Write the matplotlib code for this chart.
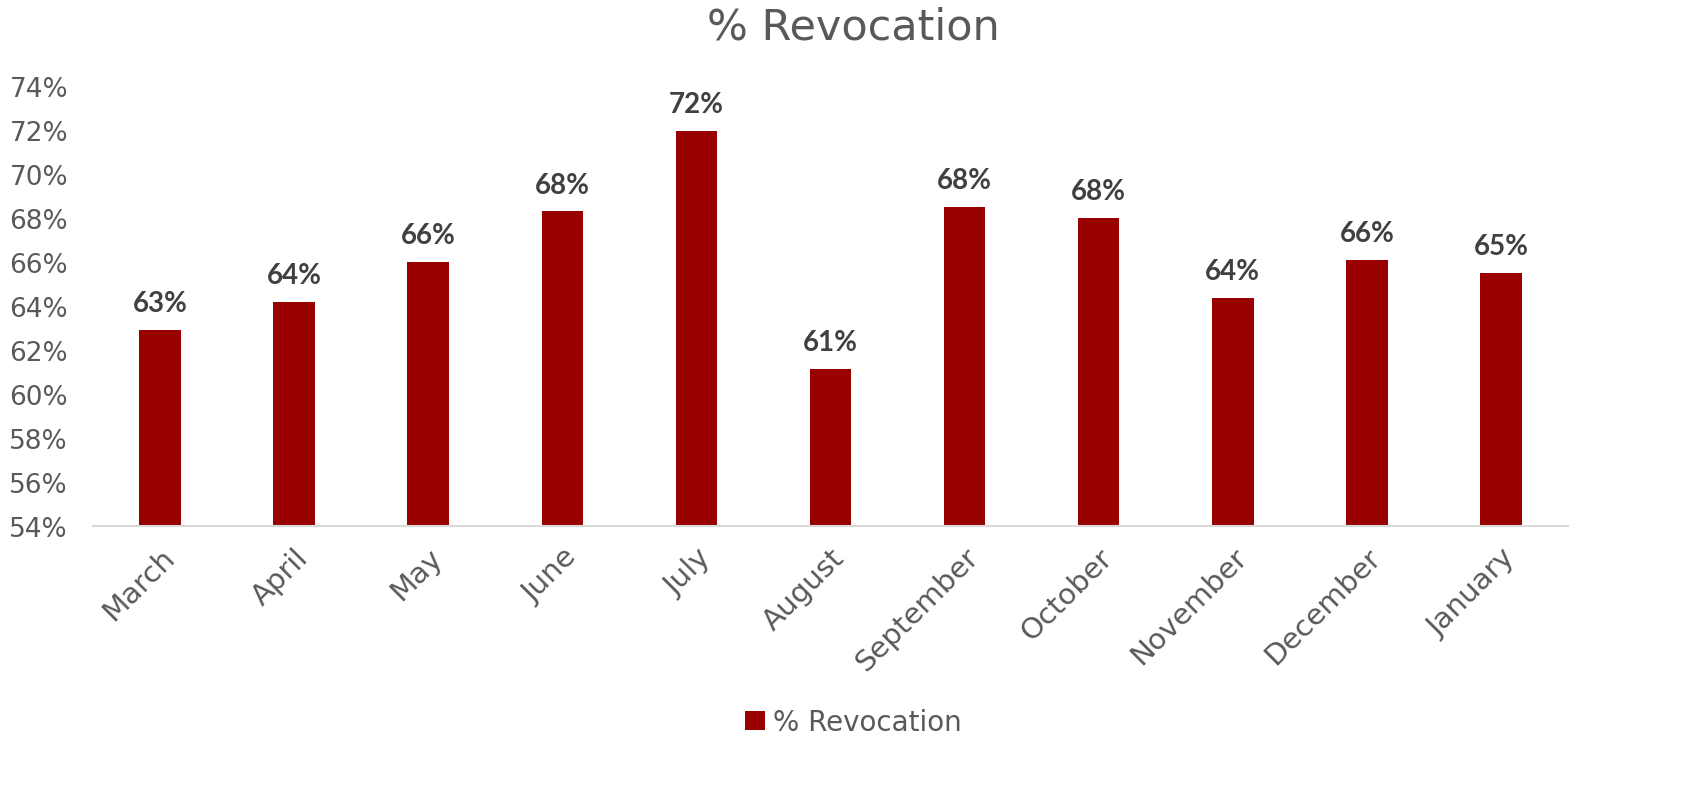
import matplotlib.pyplot as plt
from matplotlib.ticker import FuncFormatter

meses = ["March", "April", "May", "June", "July", "August", "September",
         "October", "November", "December", "January"]
revocacao = [62.9, 64.2, 66.0, 68.3, 71.95, 61.15, 68.5, 68.0, 64.35, 66.1, 65.5]
rotulos = ["63%", "64%", "66%", "68%", "72%", "61%", "68%", "68%", "64%", "66%", "65%"]

cinza = "#595959"
vermelho = "#990000"

fig = plt.figure(figsize=(17.07, 8.03), dpi=100)
ax = fig.add_axes([93 / 1707, 1 - 527 / 803, (1568 - 93) / 1707, (527 - 87) / 803])

x = range(len(meses))
barras = ax.bar(x, revocacao, width=0.31, color=vermelho, label="% Revocation", zorder=2)

for xi, v, r in zip(x, revocacao, rotulos):
    ax.annotate(r, (xi, v), xytext=(0, 10), textcoords="offset points",
                ha="center", va="bottom", fontsize=20, fontweight="bold",
                color="#404040", family="Lato")

ax.set_xlim(-0.5, len(meses) - 0.5)
ax.set_ylim(54, 74)
ax.set_yticks(range(54, 75, 2))
ax.yaxis.set_major_formatter(FuncFormatter(lambda v, p: f"{v:.0f}%"))
ax.set_xticks(list(x))
ax.set_xticklabels(meses, rotation=45, ha="right", rotation_mode="anchor", fontsize=21)

for s in ["top", "right", "left"]:
    ax.spines[s].set_visible(False)
ax.spines["bottom"].set_color("#d9d9d9")
ax.spines["bottom"].set_linewidth(1.5)
ax.tick_params(axis="both", length=0, labelcolor=cinza)
ax.tick_params(axis="y", pad=18, labelsize=19)
ax.tick_params(axis="x", pad=12)

fig.suptitle("% Revocation", y=1 - 28 / 803, va="center", fontsize=31, color=cinza)
fig.legend(handles=[barras], loc="center", bbox_to_anchor=(0.5, 1 - 723 / 803),
           frameon=False, fontsize=20, labelcolor=cinza, handlelength=0.7,
           handleheight=0.7, handletextpad=0.3)

fig.savefig("out.png", dpi=100)
